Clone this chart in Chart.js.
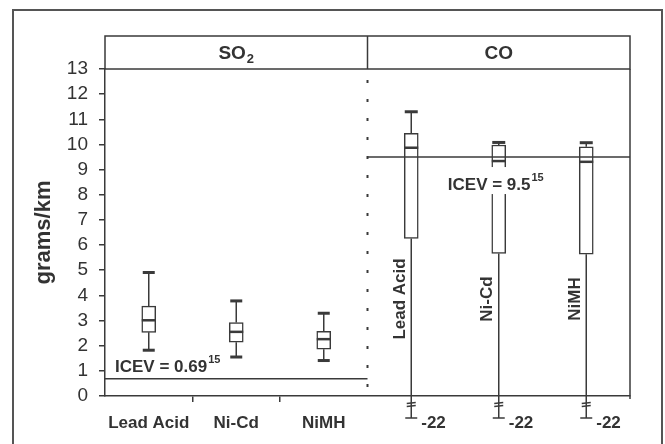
<!DOCTYPE html>
<html>
<head>
<meta charset="utf-8">
<script src="https://cdn.jsdelivr.net/npm/chart.js@4.4.1/dist/chart.umd.min.js"></script>
<style>
  html, body { margin: 0; padding: 0; background: #fff; }
  #wrap { width: 665px; height: 444px; }
</style>
</head>
<body>
<div id="wrap"><canvas id="chart" width="665" height="444"></canvas></div>
<script>
const categories = ["Lead Acid", "Ni-Cd", "NiMH"];
const panelTitles = ["SO", "CO"];
const panelSubscripts = ["2", ""];

// SO2, grams/km
const so2Min = [1.82, 1.55, 1.41];
const so2Q1 = [2.53, 2.14, 1.86];
const so2Median = [3.01, 2.55, 2.26];
const so2Q3 = [3.57, 2.92, 2.57];
const so2Max = [4.91, 3.78, 3.29];

// CO, grams/km (lower whiskers go off the axis down to -22)
const coMin = [-22, -22, -22];
const coQ1 = [6.26, 5.67, 5.64];
const coMedian = [9.87, 9.34, 9.31];
const coQ3 = [10.44, 9.98, 9.91];
const coMax = [11.30, 10.08, 10.07];

// ICEV reference levels
const icevValues = [0.69, 9.5];
const icevLabels = ["ICEV = 0.69", "ICEV = 9.5"];
const icevRefs = ["15", "15"];

const yTicks = [0, 1, 2, 3, 4, 5, 6, 7, 8, 9, 10, 11, 12, 13];

const allMin = so2Min.concat(coMin);
const allQ1 = so2Q1.concat(coQ1);
const allMedian = so2Median.concat(coMedian);
const allQ3 = so2Q3.concat(coQ3);
const allMax = so2Max.concat(coMax);

const ink = "#3a3a3a";
const family = '"Liberation Sans", Arial, Helvetica, sans-serif';
const font = (size, bold) => (bold ? "bold " : "") + size + "px " + family;

function seg(ctx, x1, y1, x2, y2) {
  ctx.beginPath();
  ctx.moveTo(x1, y1);
  ctx.lineTo(x2, y2);
  ctx.stroke();
}

// bold text followed by a small raised or lowered index
function textWithIndex(ctx, x, y, main, small, mainSize, smallSize, shift) {
  ctx.font = font(mainSize, true);
  const w = ctx.measureText(main).width;
  ctx.fillText(main, x, y);
  ctx.font = font(smallSize, true);
  ctx.fillText(small, x + w + 1, y + shift);
}

function textWidth(ctx, main, small, mainSize, smallSize) {
  ctx.font = font(mainSize, true);
  let w = ctx.measureText(main).width;
  if (small) {
    ctx.font = font(smallSize, true);
    w += ctx.measureText(small).width + 1;
  }
  return w;
}

const boxPlot = {
  id: "boxPlot",
  beforeDatasetsDraw(chart) {
    const { ctx, chartArea: a, scales: { x, y } } = chart;
    const split = (x.getPixelForValue(2) + x.getPixelForValue(3)) / 2;
    ctx.save();
    ctx.strokeStyle = ink;

    // dotted divider between the two panels
    ctx.lineWidth = 2;
    ctx.setLineDash([3, 16]);
    seg(ctx, split, a.top + 11, split, a.bottom + 6);
    ctx.setLineDash([]);

    // whiskers
    ctx.lineWidth = 1.5;
    allMax.forEach((hi, i) => {
      const px = x.getPixelForValue(i);
      seg(ctx, px, y.getPixelForValue(hi), px, y.getPixelForValue(allQ3[i]));
      const q1 = y.getPixelForValue(allQ1[i]);
      if (allMin[i] >= y.min) {
        seg(ctx, px, q1, px, y.getPixelForValue(allMin[i]));
      } else {
        seg(ctx, px, q1, px, a.bottom + 22);
        seg(ctx, px - 4.5, a.bottom + 7.5, px + 4.5, a.bottom + 6.5);
        seg(ctx, px - 4.5, a.bottom + 10.5, px + 4.5, a.bottom + 9.5);
      }
    });
    ctx.restore();
  },
  afterDatasetsDraw(chart) {
    const { ctx, chartArea: a, scales: { x, y } } = chart;
    const split = (x.getPixelForValue(2) + x.getPixelForValue(3)) / 2;
    ctx.save();
    ctx.strokeStyle = ink;
    ctx.fillStyle = "#333";

    // medians and caps
    allMedian.forEach((m, i) => {
      const px = x.getPixelForValue(i);
      const py = y.getPixelForValue(m);
      ctx.lineWidth = 2.5;
      seg(ctx, px - 7, py, px + 7, py);
      ctx.lineWidth = 3;
      const hw = i < 3 ? 6 : 6.5;
      seg(ctx, px - hw, y.getPixelForValue(allMax[i]), px + hw, y.getPixelForValue(allMax[i]));
      if (allMin[i] >= y.min) {
        const ly = y.getPixelForValue(allMin[i]);
        seg(ctx, px - hw, ly, px + hw, ly);
      } else {
        ctx.lineWidth = 1.5;
        seg(ctx, px - 6, a.bottom + 22, px + 6, a.bottom + 22);
        ctx.font = font(17, true);
        ctx.textAlign = "left";
        ctx.textBaseline = "middle";
        ctx.fillText(String(allMin[i]), px + 10, a.bottom + 27);
      }
    });

    // ICEV lines
    ctx.lineWidth = 1.5;
    const soY = y.getPixelForValue(icevValues[0]);
    const coY = y.getPixelForValue(icevValues[1]);
    seg(ctx, a.left, soY, split, soY);
    seg(ctx, split, coY, a.right, coY);

    ctx.textAlign = "left";
    ctx.textBaseline = "alphabetic";
    textWithIndex(ctx, a.left + 10, soY - 7, icevLabels[0], icevRefs[0], 17, 11, -9);

    const coW = textWidth(ctx, icevLabels[1], icevRefs[1], 17, 11);
    const coX = (split + a.right) / 2 - 3 - coW / 2;
    const coBase = coY + 33;
    ctx.fillStyle = "#fff";
    ctx.fillRect(coX - 2, coBase - 23, coW + 4, 27);
    ctx.fillStyle = "#333";
    textWithIndex(ctx, coX, coBase, icevLabels[1], icevRefs[1], 17, 11, -9);

    // CO category names, written upward beside the whiskers
    ctx.font = font(17, true);
    ctx.textAlign = "center";
    ctx.textBaseline = "alphabetic";
    categories.forEach((c, i) => {
      const px = x.getPixelForValue(i + 3);
      ctx.save();
      ctx.translate(px - 6.5, 299);
      ctx.rotate(-Math.PI / 2);
      ctx.fillText(c, 0, 0);
      ctx.restore();
    });
    ctx.restore();
  },
  afterDraw(chart) {
    const { ctx, chartArea: a, scales: { x } } = chart;
    const split = (x.getPixelForValue(2) + x.getPixelForValue(3)) / 2;
    const headTop = 36;
    ctx.save();
    ctx.strokeStyle = ink;
    ctx.lineWidth = 1.5;
    ctx.strokeRect(a.left, headTop, a.right - a.left, a.top - headTop);
    seg(ctx, split, headTop, split, a.top);
    seg(ctx, a.right, a.top, a.right, a.bottom + 3);

    // panel titles
    ctx.fillStyle = "#333";
    ctx.textAlign = "left";
    ctx.textBaseline = "alphabetic";
    const centers = [(a.left + split) / 2, (split + a.right) / 2];
    panelTitles.forEach((t, i) => {
      const w = textWidth(ctx, t, panelSubscripts[i], 19, 13);
      textWithIndex(ctx, centers[i] - w / 2, 59, t, panelSubscripts[i], 19, 13, 4);
    });

    // outer frame
    ctx.strokeStyle = "#555";
    ctx.lineWidth = 2;
    ctx.strokeRect(13, 10, 649, 470);
    ctx.restore();
  }
};

new Chart(document.getElementById("chart"), {
  type: "bar",
  data: {
    labels: categories.concat(categories),
    datasets: [{
      data: allQ1.map((q, i) => [q, allQ3[i]]),
      backgroundColor: "#fff",
      borderColor: ink,
      borderWidth: 1.5,
      borderSkipped: false,
      barThickness: 14
    }]
  },
  options: {
    responsive: false,
    animation: false,
    devicePixelRatio: 1,
    layout: { padding: { top: 69, right: 35, left: 0, bottom: 0 } },
    plugins: {
      legend: { display: false },
      tooltip: { enabled: false }
    },
    scales: {
      x: {
        offset: true,
        afterFit: s => { s.height = 48; },
        grid: {
          offset: true,
          drawOnChartArea: false,
          tickLength: 6,
          lineWidth: 1.5,
          color: c => (c.index === 1 || c.index === 2) ? ink : "rgba(0,0,0,0)"
        },
        border: { display: true, color: ink, width: 1.5 },
        ticks: {
          autoSkip: false,
          maxRotation: 0,
          padding: 11,
          color: "#333",
          font: { family: family, size: 17, weight: "bold" },
          callback: (v, i) => i < 3 ? categories[i] : ""
        }
      },
      y: {
        min: yTicks[0],
        max: yTicks[yTicks.length - 1],
        afterBuildTicks: s => { s.ticks = yTicks.map(v => ({ value: v })); },
        afterFit: s => { s.width = 105; },
        grid: { drawOnChartArea: false, tickLength: 6, lineWidth: 1.5, color: ink },
        border: { display: true, color: ink, width: 1.5 },
        ticks: {
          autoSkip: false,
          padding: 11,
          color: "#333",
          font: { family: family, size: 19 }
        },
        title: {
          display: true,
          text: "grams/km",
          color: "#333",
          font: { family: family, size: 22, weight: "bold" },
          padding: { top: 31, bottom: 0 }
        }
      }
    }
  },
  plugins: [boxPlot]
});
</script>
</body>
</html>
